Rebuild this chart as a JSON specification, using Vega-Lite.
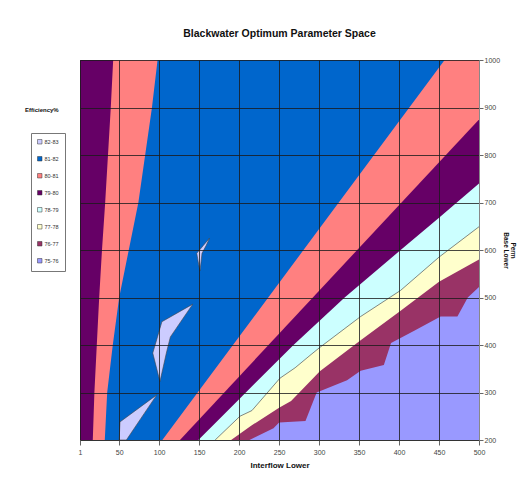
{
  "$schema": "https://vega.github.io/schema/vega-lite/v6.json",
  "width": 399,
  "height": 380,
  "autosize": {"type": "none"},
  "padding": {"left": 80, "top": 60, "right": 43, "bottom": 39},
  "background": "white",
  "title": {
    "text": "Blackwater Optimum Parameter Space",
    "fontSize": 10.5,
    "fontWeight": "bold",
    "color": "#111111",
    "anchor": "middle",
    "frame": "group",
    "offset": 17
  },
  "config": {"font": "Liberation Sans", "view": {"stroke": null}},
  "datasets": {
    "b7576": [
      {"band": "75-76", "x": 1, "y": 200},
      {"band": "75-76", "x": 500, "y": 200}
    ],
    "b7677": [
      {"band": "76-77", "x": 1, "y": 200},
      {"band": "76-77", "x": 213, "y": 200},
      {"band": "76-77", "x": 243, "y": 225},
      {"band": "76-77", "x": 250, "y": 237},
      {"band": "76-77", "x": 283, "y": 240},
      {"band": "76-77", "x": 297, "y": 300},
      {"band": "76-77", "x": 335, "y": 326},
      {"band": "76-77", "x": 352, "y": 346},
      {"band": "76-77", "x": 381, "y": 358},
      {"band": "76-77", "x": 390, "y": 404},
      {"band": "76-77", "x": 419, "y": 430},
      {"band": "76-77", "x": 452, "y": 460},
      {"band": "76-77", "x": 473, "y": 460},
      {"band": "76-77", "x": 486, "y": 500},
      {"band": "76-77", "x": 500, "y": 522}
    ],
    "b7778": [
      {"band": "77-78", "x": 1, "y": 200},
      {"band": "77-78", "x": 190, "y": 200},
      {"band": "77-78", "x": 215, "y": 230},
      {"band": "77-78", "x": 250, "y": 268},
      {"band": "77-78", "x": 265, "y": 282},
      {"band": "77-78", "x": 301, "y": 345},
      {"band": "77-78", "x": 352, "y": 410},
      {"band": "77-78", "x": 402, "y": 472},
      {"band": "77-78", "x": 450, "y": 533},
      {"band": "77-78", "x": 500, "y": 580}
    ],
    "b7879": [
      {"band": "78-79", "x": 1, "y": 200},
      {"band": "78-79", "x": 170, "y": 200},
      {"band": "78-79", "x": 201, "y": 250},
      {"band": "78-79", "x": 216, "y": 262},
      {"band": "78-79", "x": 251, "y": 330},
      {"band": "78-79", "x": 270, "y": 352},
      {"band": "78-79", "x": 290, "y": 380},
      {"band": "78-79", "x": 301, "y": 395},
      {"band": "78-79", "x": 352, "y": 460},
      {"band": "78-79", "x": 402, "y": 515},
      {"band": "78-79", "x": 450, "y": 585},
      {"band": "78-79", "x": 500, "y": 649}
    ],
    "b7980r": [
      {"band": "79-80", "x": 1, "y": 200},
      {"band": "79-80", "x": 149, "y": 200},
      {"band": "79-80", "x": 200, "y": 286},
      {"band": "79-80", "x": 268, "y": 400},
      {"band": "79-80", "x": 332, "y": 500},
      {"band": "79-80", "x": 402, "y": 600},
      {"band": "79-80", "x": 450, "y": 668},
      {"band": "79-80", "x": 500, "y": 740}
    ],
    "b8081r": [
      {"band": "80-81", "x": 1, "y": 200},
      {"band": "80-81", "x": 126, "y": 200},
      {"band": "80-81", "x": 500, "y": 875}
    ],
    "b8182": [
      {"band": "81-82", "x": 1, "y": 200},
      {"band": "81-82", "x": 104, "y": 200},
      {"band": "81-82", "x": 457, "y": 1000},
      {"band": "81-82", "x": 500, "y": 1000}
    ],
    "b8081l": [
      {"band": "80-81", "y": 200, "x": 32},
      {"band": "80-81", "y": 300, "x": 35},
      {"band": "80-81", "y": 400, "x": 42},
      {"band": "80-81", "y": 500, "x": 50},
      {"band": "80-81", "y": 600, "x": 62},
      {"band": "80-81", "y": 700, "x": 74},
      {"band": "80-81", "y": 800, "x": 82.5},
      {"band": "80-81", "y": 900, "x": 91},
      {"band": "80-81", "y": 1000, "x": 98}
    ],
    "b7980l": [
      {"band": "79-80", "y": 200, "x": 17},
      {"band": "79-80", "y": 300, "x": 19},
      {"band": "79-80", "y": 400, "x": 22},
      {"band": "79-80", "y": 500, "x": 25},
      {"band": "79-80", "y": 600, "x": 28.5},
      {"band": "79-80", "y": 700, "x": 32.5},
      {"band": "79-80", "y": 800, "x": 36},
      {"band": "79-80", "y": 900, "x": 39.5},
      {"band": "79-80", "y": 1000, "x": 42.5}
    ],
    "b8283": [
      {"band": "82-83", "island": "a", "y": 556, "x": 151, "x2": 151},
      {"band": "82-83", "island": "a", "y": 575, "x": 148.9, "x2": 152.4},
      {"band": "82-83", "island": "a", "y": 593, "x": 147, "x2": 153.6},
      {"band": "82-83", "island": "a", "y": 610, "x": 155.5, "x2": 158.9},
      {"band": "82-83", "island": "a", "y": 625, "x": 163, "x2": 163},
      {"band": "82-83", "island": "b", "y": 323, "x": 101, "x2": 101},
      {"band": "82-83", "island": "b", "y": 383, "x": 92, "x2": 109},
      {"band": "82-83", "island": "b", "y": 390, "x": 93.2, "x2": 110},
      {"band": "82-83", "island": "b", "y": 417, "x": 97.9, "x2": 114},
      {"band": "82-83", "island": "b", "y": 435, "x": 101, "x2": 121.3},
      {"band": "82-83", "island": "b", "y": 449, "x": 103.4, "x2": 127},
      {"band": "82-83", "island": "b", "y": 486, "x": 142, "x2": 142},
      {"band": "82-83", "island": "c", "y": 200, "x": 50, "x2": 59},
      {"band": "82-83", "island": "c", "y": 238, "x": 51, "x2": 74.2},
      {"band": "82-83", "island": "c", "y": 295, "x": 97, "x2": 97}
    ]
  },
  "encoding": {
    "x": {
      "field": "x",
      "type": "quantitative",
      "stack": null,
      "scale": {"domain": [1, 500], "nice": false, "zero": false},
      "axis": {
        "values": [1, 50, 100, 150, 200, 250, 300, 350, 400, 450, 500],
        "format": "d",
        "title": "Interflow Lower",
        "titleFontSize": 8,
        "titleFontWeight": "bold",
        "titleColor": "#111111",
        "titlePadding": 6,
        "labelFontSize": 7,
        "labelColor": "#444444",
        "labelPadding": 3,
        "labelFlush": false,
        "labelOverlap": false,
        "tickSize": 5,
        "tickColor": "#666666",
        "domainColor": "#333333",
        "grid": true,
        "gridColor": "#1a1a1a",
        "gridOpacity": 0.8,
        "gridWidth": 1,
        "zindex": 1
      }
    },
    "y": {
      "field": "y",
      "type": "quantitative",
      "stack": null,
      "scale": {"domain": [200, 1000], "nice": false, "zero": false},
      "axis": {
        "orient": "right",
        "values": [200, 300, 400, 500, 600, 700, 800, 900, 1000],
        "format": "d",
        "title": ["Perm", "Base Lower"],
        "titleAngle": 90,
        "titleFontSize": 6.5,
        "titleFontWeight": "bold",
        "titleColor": "#111111",
        "titlePadding": 3,
        "titleLineHeight": 7,
        "labelFontSize": 7,
        "labelColor": "#444444",
        "labelPadding": 1,
        "labelOverlap": false,
        "tickSize": 4,
        "tickColor": "#666666",
        "domainColor": "#888888",
        "grid": true,
        "gridColor": "#1a1a1a",
        "gridOpacity": 0.8,
        "gridWidth": 1,
        "zindex": 1
      }
    },
    "color": {
      "field": "band",
      "type": "nominal",
      "scale": {
        "domain": ["82-83", "81-82", "80-81", "79-80", "78-79", "77-78", "76-77", "75-76"],
        "range": ["#CCCCFF", "#0066CC", "#FF8080", "#660066", "#CCFFFF", "#FFFFCC", "#993366", "#9999FF"]
      },
      "legend": {
        "title": null,
        "orient": "none",
        "legendX": -49,
        "legendY": 73,
        "padding": 6,
        "strokeColor": "#777777",
        "fillColor": "white",
        "symbolType": "square",
        "symbolSize": 20,
        "symbolStrokeColor": "#333333",
        "symbolStrokeWidth": 0.5,
        "symbolOpacity": 1,
        "labelFontSize": 5.5,
        "labelColor": "#333333",
        "labelOffset": 2,
        "rowPadding": 9
      }
    }
  },
  "layer": [
    {
      "data": {"name": "b7576"},
      "mark": {"type": "area", "orient": "vertical"},
      "encoding": {
        "y2": {"datum": 1000},
        "opacity": {
          "datum": "Efficiency%",
          "type": "ordinal",
          "scale": {"range": [1, 1]},
          "legend": {
            "title": "Efficiency%",
            "orient": "none",
            "legendX": -55,
            "legendY": 47,
            "padding": 0,
            "titleFontSize": 6,
            "titleFontWeight": "bold",
            "titleColor": "#111111",
            "symbolSize": 0,
            "symbolStrokeWidth": 0,
            "symbolFillColor": "transparent",
            "symbolStrokeColor": "transparent",
            "symbolOpacity": 0,
            "labelOpacity": 0
          }
        }
      }
    },
    {
      "data": {"name": "b7677"},
      "mark": {"type": "area", "orient": "vertical"},
      "encoding": {"y2": {"datum": 1000}}
    },
    {
      "data": {"name": "b7778"},
      "mark": {"type": "area", "orient": "vertical"},
      "encoding": {"y2": {"datum": 1000}}
    },
    {
      "data": {"name": "b7879"},
      "mark": {"type": "area", "orient": "vertical"},
      "encoding": {"y2": {"datum": 1000}}
    },
    {
      "data": {"name": "b7879"},
      "transform": [{"filter": "datum.x >= 170"}],
      "mark": {"type": "line", "strokeWidth": 0.7},
      "encoding": {"color": {"value": "#555555"}}
    },
    {
      "data": {"name": "b7980r"},
      "mark": {"type": "area", "orient": "vertical"},
      "encoding": {"y2": {"datum": 1000}}
    },
    {
      "data": {"name": "b8081r"},
      "mark": {"type": "area", "orient": "vertical"},
      "encoding": {"y2": {"datum": 1000}}
    },
    {
      "data": {"name": "b8182"},
      "mark": {"type": "area", "orient": "vertical"},
      "encoding": {"y2": {"datum": 1000}}
    },
    {
      "data": {"name": "b8081l"},
      "mark": {"type": "area", "orient": "horizontal"},
      "encoding": {"x2": {"datum": 1}}
    },
    {
      "data": {"name": "b7980l"},
      "mark": {"type": "area", "orient": "horizontal"},
      "encoding": {"x2": {"datum": 1}}
    },
    {
      "data": {"name": "b8283"},
      "mark": {"type": "area", "orient": "horizontal", "stroke": "#444444", "strokeWidth": 0.6},
      "encoding": {
        "x2": {"field": "x2"},
        "detail": {"field": "island", "type": "nominal"}
      }
    }
  ]
}
